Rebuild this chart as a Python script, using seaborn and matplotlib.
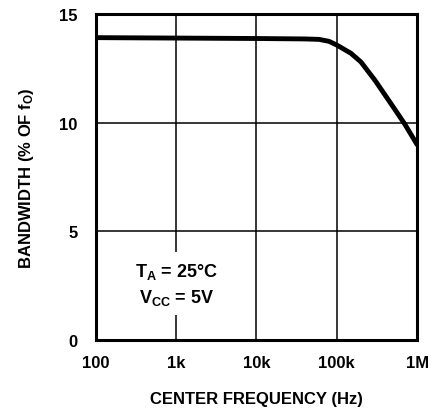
import numpy as np
import pandas as pd
import matplotlib
matplotlib.use("Agg")
import matplotlib.pyplot as plt
import seaborn as sns

freq = [100, 1000, 10000, 40000, 60000, 80000, 100000, 150000, 200000, 300000, 500000, 700000, 1000000]
bandwidth = [13.92, 13.9, 13.88, 13.86, 13.84, 13.75, 13.58, 13.2, 12.8, 11.95, 10.75, 9.95, 9.0]

x_ticks = [100, 1000, 10000, 100000, 1000000]
x_labels = ["100", "1k", "10k", "100k", "1M"]
y_ticks = [0, 5, 10, 15]

df = pd.DataFrame({"freq": freq, "bw": bandwidth})

sns.set_style("white")
plt.rcParams['font.family'] = ['Liberation Sans', 'DejaVu Sans']
plt.rcParams['text.color'] = 'black'
plt.rcParams['axes.labelcolor'] = 'black'
plt.rcParams['xtick.color'] = 'black'
plt.rcParams['ytick.color'] = 'black'
plt.rcParams['mathtext.default'] = 'regular'

fig = plt.figure(figsize=(4.34, 4.10), dpi=100)
ax = fig.add_axes([0.221, 0.168, 0.74, 0.795])

sns.lineplot(x="freq", y="bw", data=df, color="black", linewidth=3.5, ax=ax, zorder=3)

ax.set_xscale("log")
ax.set_xlim(100, 1000000)
ax.set_ylim(0, 15)
ax.set_xticks(x_ticks)
ax.set_xticklabels(x_labels)
ax.set_yticks(y_ticks)
ax.minorticks_off()
ax.tick_params(length=0, labelsize=12)
ax.tick_params(axis="x", pad=11)
ax.tick_params(axis="y", pad=13)
for lab in ax.get_xticklabels() + ax.get_yticklabels():
    lab.set_fontweight("bold")

ax.grid(True, color="black", linewidth=1.1)
for s in ax.spines.values():
    s.set_color("black")
    s.set_linewidth(2.2)

ax.set_xlabel("CENTER FREQUENCY (Hz)", fontsize=12, fontweight="bold", labelpad=15)
ax.set_ylabel("BANDWIDTH (% OF f$_{O}$)", fontsize=12, fontweight="bold", labelpad=17)

ax.text(1000, 2.6, "T$_{A}$ = 25°C\nV$_{CC}$ = 5V", ha="center", va="center",
        fontsize=13, fontweight="bold", linespacing=1.4, zorder=4,
        bbox=dict(facecolor="white", edgecolor="none", pad=6))

fig.savefig("out.png", dpi=100)
